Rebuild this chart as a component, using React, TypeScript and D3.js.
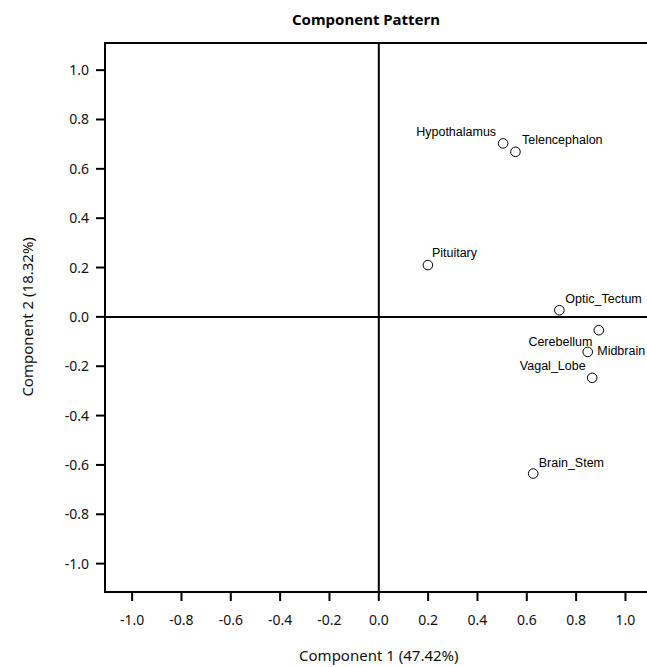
import React from "react";
import * as d3 from "d3";

// Component loadings per brain region
const regions = [
  "Hypothalamus",
  "Telencephalon",
  "Pituitary",
  "Optic_Tectum",
  "Cerebellum",
  "Midbrain",
  "Vagal_Lobe",
  "Brain_Stem",
];
const component1 = [0.504, 0.554, 0.199, 0.732, 0.892, 0.847, 0.865, 0.626];
const component2 = [0.703, 0.669, 0.21, 0.027, -0.054, -0.142, -0.247, -0.635];

const tickValues = [-1.0, -0.8, -0.6, -0.4, -0.2, 0.0, 0.2, 0.4, 0.6, 0.8, 1.0];

// label placement relative to each marker: [dx, dy, anchor]
const labelPlacement: Record<string, [number, number, string]> = {
  Hypothalamus: [-7, -7, "end"],
  Telencephalon: [6.5, -8, "start"],
  Pituitary: [4, -8, "start"],
  Optic_Tectum: [6, -7, "start"],
  Cerebellum: [-6.5, 16, "end"],
  Midbrain: [9.5, 3.5, "start"],
  Vagal_Lobe: [-6.5, -7.5, "end"],
  Brain_Stem: [5.5, -6.5, "start"],
};

const W = 647;
const H = 667;
const left = 105;
const top = 43;
const right = 660;
const bottom = 592;

export default function App() {
  const x = d3.scaleLinear().domain([-1.11, 1.14]).range([left, right]);
  const y = d3.scaleLinear().domain([-1.115, 1.11]).range([bottom, top]);
  const font = "'Liberation Sans', Arial, sans-serif";
  const tickFont = "'Noto Sans', 'DejaVu Sans', sans-serif";
  const fmt = (v: number) => d3.format(".1f")(v).replace("\u2212", "-");

  return (
    <svg
      width={W}
      height={H}
      style={{ position: "absolute", left: 0, top: 0, background: "#fff", overflow: "hidden" }}
    >
      <text
        x={366}
        y={25}
        textAnchor="middle"
        fontFamily={tickFont}
        fontWeight="bold"
        fontSize={15}
      >
        Component Pattern
      </text>

      {/* plot frame (right side runs past the canvas edge) */}
      <path
        d={`M${right},${top}H${left}V${bottom}H${right}`}
        fill="none"
        stroke="#000"
        strokeWidth={2}
      />

      {/* zero reference lines */}
      <line x1={x(0)} x2={x(0)} y1={top} y2={bottom} stroke="#000" strokeWidth={2} />
      <line x1={left} x2={right} y1={y(0)} y2={y(0)} stroke="#000" strokeWidth={2} />

      {/* x axis */}
      {tickValues.map((t) => (
        <g key={"x" + t}>
          <line x1={x(t)} x2={x(t)} y1={bottom} y2={bottom + 9} stroke="#000" strokeWidth={2} />
          <text
            x={x(t)}
            y={bottom + 33}
            textAnchor="middle"
            fontFamily={tickFont}
            fontSize={14}
            fill="#111"
          >
            {fmt(t)}
          </text>
        </g>
      ))}
      <text
        x={x(0)}
        y={661}
        textAnchor="middle"
        fontFamily={tickFont}
        fontSize={15}
        fill="#111"
      >
        Component 1 (47.42%)
      </text>

      {/* y axis */}
      {tickValues.map((t) => (
        <g key={"y" + t}>
          <line x1={left - 9} x2={left} y1={y(t)} y2={y(t)} stroke="#000" strokeWidth={2} />
          <text
            x={89}
            y={y(t) + 5}
            textAnchor="end"
            fontFamily={tickFont}
            fontSize={14}
            fill="#111"
          >
            {fmt(t)}
          </text>
        </g>
      ))}
      <text
        transform={`translate(33, ${y(0)}) rotate(-90)`}
        textAnchor="middle"
        fontFamily={tickFont}
        fontSize={15}
        fill="#111"
      >
        Component 2 (18.32%)
      </text>

      {/* points */}
      {regions.map((r, i) => {
        const cx = x(component1[i]);
        const cy = y(component2[i]);
        const [dx, dy, anchor] = labelPlacement[r];
        return (
          <g key={r}>
            <circle cx={cx} cy={cy} r={4.8} fill="#fff" stroke="#000" strokeWidth={1} />
            <text
              x={cx + dx}
              y={cy + dy}
              textAnchor={anchor as any}
              fontFamily={font}
              fontSize={12.5}
              fill="#000"
            >
              {r}
            </text>
          </g>
        );
      })}
    </svg>
  );
}
